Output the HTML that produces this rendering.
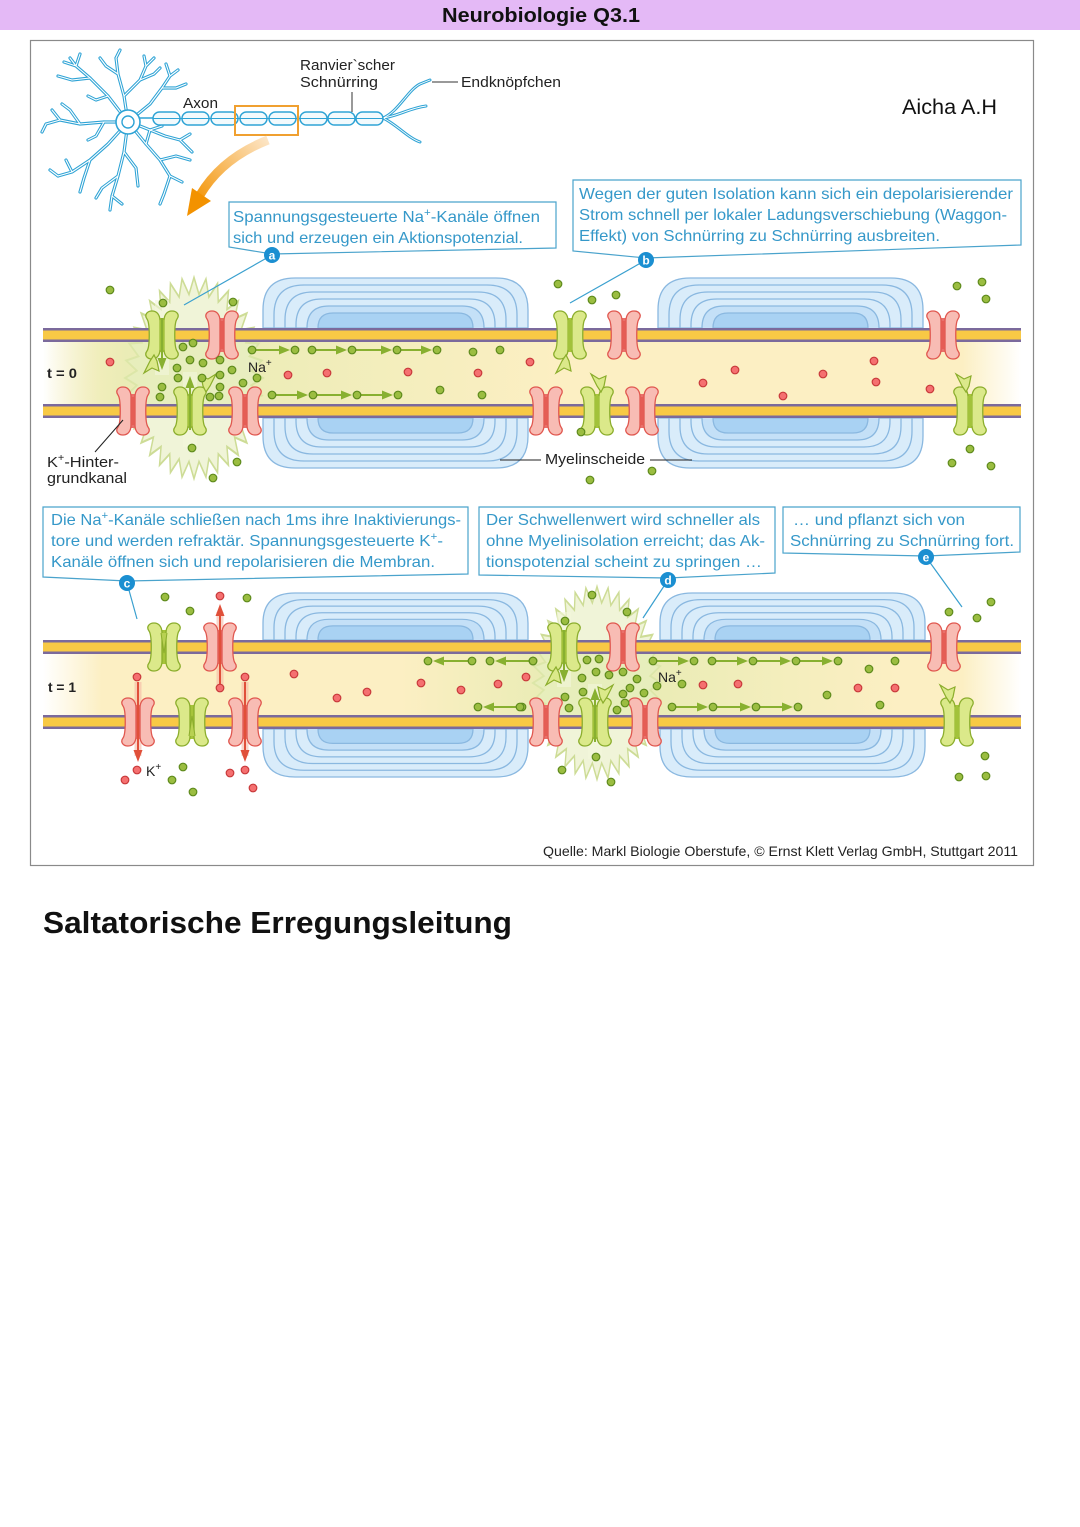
<!DOCTYPE html>
<html><head><meta charset="utf-8"><style>
html,body{margin:0;padding:0;background:#fff;}
svg{display:block;font-family:"Liberation Sans","DejaVu Sans",sans-serif;}
.g{fill:#9bbd41;stroke:#5e8a1c;stroke-width:1.2}
.r{fill:#f57070;stroke:#c8393a;stroke-width:1.2}
.bt{fill:#3598c9;font-size:16px}
.lb{fill:#222;font-size:15px}
.box{fill:#fff;stroke:#4aa3cc;stroke-width:1.2}
.pl{stroke:#3aa0cf;stroke-width:1.2;fill:none}
.ga{stroke:#88b030;stroke-width:2}
.gh{fill:#88b030}
.ml{fill:none;stroke:#8ab8e0;stroke-width:1.3}
</style></head><body>
<svg width="1080" height="1527" viewBox="0 0 1080 1527" xmlns="http://www.w3.org/2000/svg">
<defs>
<linearGradient id="intg" x1="0" x2="1" y1="0" y2="0">
<stop offset="0" stop-color="#ffffff"/><stop offset="0.06" stop-color="#fcefc3"/><stop offset="0.94" stop-color="#fcefc3"/><stop offset="1" stop-color="#ffffff"/>
</linearGradient>
<linearGradient id="tint0" gradientUnits="userSpaceOnUse" x1="43" x2="560" y1="0" y2="0">
<stop offset="0" stop-color="#e3ebb0" stop-opacity="0"/><stop offset="0.16" stop-color="#e3ebb0" stop-opacity="0.7"/><stop offset="0.42" stop-color="#e3ebb0" stop-opacity="0.6"/><stop offset="1" stop-color="#e3ebb0" stop-opacity="0"/>
</linearGradient>
<linearGradient id="tint1" gradientUnits="userSpaceOnUse" x1="400" x2="900" y1="0" y2="0">
<stop offset="0" stop-color="#e3ebb0" stop-opacity="0"/><stop offset="0.28" stop-color="#e3ebb0" stop-opacity="0.7"/><stop offset="0.52" stop-color="#e3ebb0" stop-opacity="0.7"/><stop offset="1" stop-color="#e3ebb0" stop-opacity="0"/>
</linearGradient>
<linearGradient id="org" gradientUnits="userSpaceOnUse" x1="270" y1="138" x2="195" y2="205">
<stop offset="0" stop-color="#fde8cc"/><stop offset="1" stop-color="#f39200"/>
</linearGradient>
<path id="hR" d="M-2,-14 C-2,-20 -5,-24 -10,-24 C-15,-24 -18,-20 -15,-16 C-12,-12 -12,12 -15,16 C-18,20 -15,24 -10,24 C-5,24 -2,20 -2,14 Z"/>
<g id="cR">
<rect x="-3" y="-17" width="6" height="34" fill="#e9706a"/>
<use href="#hR" fill="#f8bcb4" stroke="#e0574f" stroke-width="1.3"/>
<use href="#hR" transform="scale(-1,1)" fill="#f8bcb4" stroke="#e0574f" stroke-width="1.3"/>
<rect x="-1.8" y="-14" width="3.6" height="28" fill="#e55d55"/>
</g>
<g id="cG">
<rect x="-3.5" y="-17" width="7" height="34" fill="#a6c43a"/>
<use href="#hR" fill="#dbe98a" stroke="#8bad2c" stroke-width="1.3"/>
<use href="#hR" transform="scale(-1,1)" fill="#dbe98a" stroke="#8bad2c" stroke-width="1.3"/>
<rect x="-2.5" y="-15" width="5" height="30" fill="#a2c23a"/>
</g>
<g id="cGc">
<rect x="-3" y="-17" width="6" height="34" fill="#a6c43a"/>
<use href="#hR" fill="#dbe98a" stroke="#8bad2c" stroke-width="1.3"/>
<use href="#hR" transform="scale(-1,1)" fill="#dbe98a" stroke="#8bad2c" stroke-width="1.3"/>
<path d="M-3,-14 L0,6 L3,-14" fill="#b8d152" stroke="#8bad2c" stroke-width="1"/>
</g>
<path id="gate" d="M0,0 L-4,6 L-10,18 L-2,13 L5,16 L3,6 Z" fill="#dbe98a" stroke="#8bad2c" stroke-width="1.2"/>
<g id="my">
<path d="M0,0 L0,-18 Q0,-50 32,-50 L233,-50 Q265,-50 265,-18 L265,0 Z" fill="#d9ecfa" stroke="#8ab8e0" stroke-width="1.3"/>
<path class="ml" d="M11,0 L11,-13 Q11,-43 41,-43 L224,-43 Q254,-43 254,-13 L254,0"/>
<path class="ml" d="M22,0 L22,-8 Q22,-36 50,-36 L215,-36 Q243,-36 243,-8 L243,0"/>
<path class="ml" d="M33,0 L33,-3 Q33,-29 59,-29 L206,-29 Q232,-29 232,-3 L232,0"/>
<path d="M44,0 Q44,-22 66,-22 L199,-22 Q221,-22 221,0" fill="#c4e0f7" stroke="#8ab8e0" stroke-width="1.3"/>
<path d="M55,0 Q55,-15 70,-15 L195,-15 Q210,-15 210,0 Z" fill="#a9d2f3" stroke="#8ab8e0" stroke-width="1.3"/>
</g>
<g id="star">
<circle r="55"/>
<polygon id="sp" points="-6,-53 0,-67 6,-53"/>
<use href="#sp" transform="rotate(10)"/><use href="#sp" transform="rotate(20)"/><use href="#sp" transform="rotate(30)"/>
<use href="#sp" transform="rotate(40)"/><use href="#sp" transform="rotate(50)"/><use href="#sp" transform="rotate(60)"/>
<use href="#sp" transform="rotate(70)"/><use href="#sp" transform="rotate(80)"/><use href="#sp" transform="rotate(90)"/>
<use href="#sp" transform="rotate(100)"/><use href="#sp" transform="rotate(110)"/><use href="#sp" transform="rotate(120)"/>
<use href="#sp" transform="rotate(130)"/><use href="#sp" transform="rotate(140)"/><use href="#sp" transform="rotate(150)"/>
<use href="#sp" transform="rotate(160)"/><use href="#sp" transform="rotate(170)"/><use href="#sp" transform="rotate(180)"/>
<use href="#sp" transform="rotate(190)"/><use href="#sp" transform="rotate(200)"/><use href="#sp" transform="rotate(210)"/>
<use href="#sp" transform="rotate(220)"/><use href="#sp" transform="rotate(230)"/><use href="#sp" transform="rotate(240)"/>
<use href="#sp" transform="rotate(250)"/><use href="#sp" transform="rotate(260)"/><use href="#sp" transform="rotate(270)"/>
<use href="#sp" transform="rotate(280)"/><use href="#sp" transform="rotate(290)"/><use href="#sp" transform="rotate(300)"/>
<use href="#sp" transform="rotate(310)"/><use href="#sp" transform="rotate(320)"/><use href="#sp" transform="rotate(330)"/>
<use href="#sp" transform="rotate(340)"/><use href="#sp" transform="rotate(350)"/>
</g>
<path id="dend" d="M128,122 L108,96 L90,78 L76,66 L70,58 M90,78 L72,80 L58,76 M76,66 L80,54 M76,66 L64,62 M108,96 L96,100 L88,96 M128,122 L124,96 L118,74 L116,58 M116,58 L120,50 M118,74 L106,66 L100,58 M124,96 L140,80 L146,66 L144,56 M140,80 L154,74 L160,68 M146,66 L154,58 M128,122 L150,104 L162,88 L170,76 M162,88 L176,88 L186,84 M170,76 L166,64 M170,76 L178,70 M128,122 L104,122 L80,124 L60,120 L46,124 M80,124 L70,110 L62,104 M60,120 L52,110 M46,124 L42,132 M104,122 L96,136 L88,140 M128,122 L108,144 L90,160 L72,172 L58,176 M90,160 L84,178 L80,192 M72,172 L66,160 M58,176 L50,170 M128,122 L124,152 L118,176 L112,196 L110,210 M118,176 L102,188 L96,198 M124,152 L136,168 L138,186 M112,196 L122,204 M128,122 L146,144 L160,160 L170,176 L182,182 M160,160 L176,156 L190,160 M170,176 L164,194 L160,204 M146,144 L150,130 L162,126 M140,126 L165,136 L180,140 L192,152 M180,140 L190,134"/>
</defs>

<!-- header -->
<rect x="0" y="0" width="1080" height="30" fill="#e4b9f6"/>
<text x="442" y="22" font-size="20" font-weight="bold" fill="#111" textLength="198" lengthAdjust="spacingAndGlyphs">Neurobiologie Q3.1</text>

<!-- frame -->
<rect x="30.5" y="40.5" width="1003" height="825" fill="#fff" stroke="#8a8a8a" stroke-width="1.2"/>

<!-- neuron -->
<g fill="none" stroke-linecap="round" stroke-linejoin="round">
<use href="#dend" stroke="#2ea3d5" stroke-width="3.2"/>
<use href="#dend" stroke="#ffffff" stroke-width="1.1"/>
<path stroke="#2ea3d5" stroke-width="1.6" d="M135,118 L153,118"/>
<path stroke="#2ea3d5" stroke-width="3" d="M383,118 C398,112 408,90 420,84 L430,80 M383,118 C398,116 410,108 426,106 M383,118 C396,124 408,138 420,142"/>
<path stroke="#fff" stroke-width="0.9" d="M383,118 C398,112 408,90 420,84 L430,80 M383,118 C398,116 410,108 426,106 M383,118 C396,124 408,138 420,142"/>
</g>
<circle cx="128" cy="122" r="12" fill="#fff" stroke="#2ea3d5" stroke-width="1.6"/>
<circle cx="128" cy="122" r="6" fill="#fff" stroke="#2ea3d5" stroke-width="1.4"/>
<g fill="#f2fafd" stroke="#2ea3d5" stroke-width="1.5">
<rect x="153" y="112" width="27" height="13" rx="6.5"/><rect x="182" y="112" width="27" height="13" rx="6.5"/>
<rect x="211" y="112" width="27" height="13" rx="6.5"/><rect x="240" y="112" width="27" height="13" rx="6.5"/>
<rect x="269" y="112" width="27" height="13" rx="6.5"/><rect x="300" y="112" width="27" height="13" rx="6.5"/>
<rect x="328" y="112" width="27" height="13" rx="6.5"/><rect x="356" y="112" width="27" height="13" rx="6.5"/>
</g>
<path d="M153,118.5 L383,118.5" stroke="#2ea3d5" stroke-width="1"/>
<rect x="235" y="106" width="63" height="29" fill="none" stroke="#f0a030" stroke-width="2"/>
<path d="M352,92 L352,112" stroke="#333" stroke-width="1"/>
<path d="M432,82 L458,82" stroke="#333" stroke-width="1"/>
<!-- orange arrow -->
<path d="M268,140 Q222,158 200,195" fill="none" stroke="url(#org)" stroke-width="9"/>
<polygon points="187,216 192,188 211,201" fill="#f39200"/>

<text class="lb" x="300" y="70" textLength="95" lengthAdjust="spacingAndGlyphs">Ranvier`scher</text>
<text class="lb" x="300" y="87" textLength="78" lengthAdjust="spacingAndGlyphs">Schnürring</text>
<text class="lb" x="461" y="87" textLength="100" lengthAdjust="spacingAndGlyphs">Endknöpfchen</text>
<text class="lb" x="183" y="108" textLength="35" lengthAdjust="spacingAndGlyphs">Axon</text>
<text x="902" y="114" font-size="21" fill="#111" textLength="95" lengthAdjust="spacingAndGlyphs">Aicha A.H</text>

<!-- callout a -->
<path class="box" d="M229,202 H556 V248 L272,254 L229,247 Z"/>
<text class="bt" x="233" y="222" textLength="307" lengthAdjust="spacingAndGlyphs">Spannungsgesteuerte Na<tspan dy="-6" font-size="11">+</tspan><tspan dy="6">-Kanäle öffnen</tspan></text>
<text class="bt" x="233" y="243" textLength="290" lengthAdjust="spacingAndGlyphs">sich und erzeugen ein Aktionspotenzial.</text>
<!-- callout b -->
<path class="box" d="M573,180 H1021 V245 L646,258 L573,251 Z"/>
<text class="bt" x="579" y="199" textLength="434" lengthAdjust="spacingAndGlyphs">Wegen der guten Isolation kann sich ein depolarisierender</text>
<text class="bt" x="579" y="220" textLength="428" lengthAdjust="spacingAndGlyphs">Strom schnell per lokaler Ladungsverschiebung (Waggon-</text>
<text class="bt" x="579" y="241" textLength="361" lengthAdjust="spacingAndGlyphs">Effekt) von Schnürring zu Schnürring ausbreiten.</text>
<!-- callout c -->
<path class="box" d="M43,507 H468 V574 L127,581 L43,577 Z"/>
<text class="bt" x="51" y="525" textLength="410" lengthAdjust="spacingAndGlyphs">Die Na<tspan dy="-6" font-size="11">+</tspan><tspan dy="6">-Kanäle schließen nach 1ms ihre Inaktivierungs-</tspan></text>
<text class="bt" x="51" y="546" textLength="392" lengthAdjust="spacingAndGlyphs">tore und werden refraktär. Spannungsgesteuerte K<tspan dy="-6" font-size="11">+</tspan><tspan dy="6">-</tspan></text>
<text class="bt" x="51" y="567" textLength="384" lengthAdjust="spacingAndGlyphs">Kanäle öffnen sich und repolarisieren die Membran.</text>
<!-- callout d -->
<path class="box" d="M479,507 H775 V573 L668,578 L479,575 Z"/>
<text class="bt" x="486" y="525" textLength="274" lengthAdjust="spacingAndGlyphs">Der Schwellenwert wird schneller als</text>
<text class="bt" x="486" y="546" textLength="279" lengthAdjust="spacingAndGlyphs">ohne Myelinisolation erreicht; das Ak-</text>
<text class="bt" x="486" y="567" textLength="276" lengthAdjust="spacingAndGlyphs">tionspotenzial scheint zu springen …</text>
<!-- callout e -->
<path class="box" d="M783,507 H1020 V552 L926,556 L783,553 Z"/>
<text class="bt" x="793" y="525" textLength="172" lengthAdjust="spacingAndGlyphs">… und pflanzt sich von</text>
<text class="bt" x="790" y="546" textLength="224" lengthAdjust="spacingAndGlyphs">Schnürring zu Schnürring fort.</text>

<!-- ============ t = 0 ============ -->
<rect x="43" y="342" width="978" height="62" fill="url(#intg)"/>
<use href="#star" transform="translate(194,378) scale(1,1.46)" fill="#cddc96" stroke="#cddc96" stroke-width="3"/>
<use href="#star" transform="translate(194,378) scale(1,1.46)" fill="#f0f4d8"/>
<rect x="43" y="342" width="517" height="62" fill="url(#tint0)"/>
<use href="#my" transform="translate(263,328)"/>
<use href="#my" transform="translate(263,418) scale(1,-1)"/>
<use href="#my" transform="translate(658,328)"/>
<use href="#my" transform="translate(658,418) scale(1,-1)"/>
<rect x="43" y="328" width="978" height="14" fill="#7b6a9c"/>
<rect x="43" y="330.5" width="978" height="9" fill="#f8c945"/>
<rect x="43" y="404" width="978" height="14" fill="#7b6a9c"/>
<rect x="43" y="406.5" width="978" height="9" fill="#f8c945"/>
<!-- glow strips for open Na channels -->
<rect x="155" y="300" width="14" height="75" fill="#f4f7dc" opacity="0.6"/>
<rect x="183" y="372" width="14" height="75" fill="#f4f7dc" opacity="0.6"/>
<!-- channels t0 -->
<use href="#cG" transform="translate(162,335)"/>
<use href="#cR" transform="translate(222,335)"/>
<use href="#cG" transform="translate(570,335)"/>
<use href="#cR" transform="translate(624,335)"/>
<use href="#cR" transform="translate(943,335)"/>
<use href="#cR" transform="translate(133,411)"/>
<use href="#cG" transform="translate(190,411)"/>
<use href="#cR" transform="translate(245,411)"/>
<use href="#cR" transform="translate(546,411)"/>
<use href="#cG" transform="translate(597,411)"/>
<use href="#cR" transform="translate(642,411)"/>
<use href="#cG" transform="translate(970,411)"/>
<use href="#gate" transform="translate(154,355)"/>
<use href="#gate" transform="translate(566,355)"/>
<use href="#gate" transform="translate(206,392) scale(-1,-1)"/>
<use href="#gate" transform="translate(601,392) scale(1,-1)"/>
<use href="#gate" transform="translate(966,392) scale(1,-1)"/>
<!-- Na arrows through channels -->
<line x1="162" y1="318" x2="162" y2="362" class="ga"/><polygon class="gh" points="157.5,358 162,370 166.5,358"/>
<line x1="190" y1="430" x2="190" y2="384" class="ga"/><polygon class="gh" points="185.5,388 190,376 194.5,388"/>
<!-- horizontal arrows t0 -->
<g>
<line class="ga" x1="256" y1="350" x2="285" y2="350"/><polygon class="gh" points="279,345.5 290,350 279,354.5"/>
<line class="ga" x1="316" y1="350" x2="342" y2="350"/><polygon class="gh" points="336,345.5 347,350 336,354.5"/>
<line class="ga" x1="356" y1="350" x2="387" y2="350"/><polygon class="gh" points="381,345.5 392,350 381,354.5"/>
<line class="ga" x1="401" y1="350" x2="427" y2="350"/><polygon class="gh" points="421,345.5 432,350 421,354.5"/>
<line class="ga" x1="276" y1="395" x2="303" y2="395"/><polygon class="gh" points="297,390.5 308,395 297,399.5"/>
<line class="ga" x1="317" y1="395" x2="347" y2="395"/><polygon class="gh" points="341,390.5 352,395 341,399.5"/>
<line class="ga" x1="361" y1="395" x2="388" y2="395"/><polygon class="gh" points="382,390.5 393,395 382,399.5"/>
</g>
<!-- dots t0 -->
<g class="g">
<circle cx="110" cy="290" r="3.8"/><circle cx="163" cy="303" r="3.8"/><circle cx="233" cy="302" r="3.8"/>
<circle cx="183" cy="347" r="3.8"/><circle cx="193" cy="343" r="3.8"/><circle cx="190" cy="360" r="3.8"/><circle cx="203" cy="363" r="3.8"/>
<circle cx="220" cy="360" r="3.8"/><circle cx="177" cy="368" r="3.8"/><circle cx="178" cy="378" r="3.8"/><circle cx="202" cy="378" r="3.8"/>
<circle cx="220" cy="375" r="3.8"/><circle cx="232" cy="370" r="3.8"/><circle cx="220" cy="387" r="3.8"/><circle cx="243" cy="383" r="3.8"/>
<circle cx="257" cy="378" r="3.8"/><circle cx="162" cy="387" r="3.8"/><circle cx="160" cy="397" r="3.8"/><circle cx="210" cy="397" r="3.8"/>
<circle cx="219" cy="396" r="3.8"/><circle cx="192" cy="448" r="3.8"/><circle cx="237" cy="462" r="3.8"/><circle cx="213" cy="478" r="3.8"/>
<circle cx="252" cy="350" r="3.8"/><circle cx="295" cy="350" r="3.8"/><circle cx="312" cy="350" r="3.8"/><circle cx="352" cy="350" r="3.8"/>
<circle cx="397" cy="350" r="3.8"/><circle cx="437" cy="350" r="3.8"/>
<circle cx="272" cy="395" r="3.8"/><circle cx="313" cy="395" r="3.8"/><circle cx="357" cy="395" r="3.8"/><circle cx="398" cy="395" r="3.8"/>
<circle cx="473" cy="352" r="3.8"/><circle cx="500" cy="350" r="3.8"/><circle cx="440" cy="390" r="3.8"/><circle cx="482" cy="395" r="3.8"/>
<circle cx="558" cy="284" r="3.8"/><circle cx="592" cy="300" r="3.8"/><circle cx="616" cy="295" r="3.8"/><circle cx="581" cy="432" r="3.8"/>
<circle cx="590" cy="480" r="3.8"/><circle cx="652" cy="471" r="3.8"/><circle cx="957" cy="286" r="3.8"/><circle cx="982" cy="282" r="3.8"/>
<circle cx="986" cy="299" r="3.8"/><circle cx="970" cy="449" r="3.8"/><circle cx="952" cy="463" r="3.8"/><circle cx="991" cy="466" r="3.8"/>
</g>
<g class="r">
<circle cx="110" cy="362" r="3.8"/><circle cx="288" cy="375" r="3.8"/><circle cx="327" cy="373" r="3.8"/><circle cx="408" cy="372" r="3.8"/>
<circle cx="478" cy="373" r="3.8"/><circle cx="530" cy="362" r="3.8"/><circle cx="735" cy="370" r="3.8"/><circle cx="703" cy="383" r="3.8"/>
<circle cx="783" cy="396" r="3.8"/><circle cx="823" cy="374" r="3.8"/><circle cx="874" cy="361" r="3.8"/><circle cx="876" cy="382" r="3.8"/>
<circle cx="930" cy="389" r="3.8"/>
</g>
<text x="47" y="378" font-size="14" font-weight="bold" fill="#222" textLength="30" lengthAdjust="spacingAndGlyphs">t = 0</text>
<text x="248" y="372" font-size="14" fill="#222">Na<tspan dy="-6" font-size="10">+</tspan></text>
<text class="lb" x="47" y="467" textLength="72" lengthAdjust="spacingAndGlyphs">K<tspan dy="-6" font-size="10">+</tspan><tspan dy="6">-Hinter-</tspan></text>
<text class="lb" x="47" y="483" textLength="80" lengthAdjust="spacingAndGlyphs">grundkanal</text>
<path d="M95,452 L123,420" stroke="#222" stroke-width="1"/>
<text class="lb" x="545" y="464" textLength="100" lengthAdjust="spacingAndGlyphs">Myelinscheide</text>
<path d="M500,460 L541,460 M650,460 L692,460" stroke="#222" stroke-width="1"/>

<!-- ============ t = 1 ============ -->
<rect x="43" y="654" width="978" height="61" fill="url(#intg)"/>
<use href="#star" transform="translate(597,683) scale(0.93,1.4)" fill="#cddc96" stroke="#cddc96" stroke-width="3"/>
<use href="#star" transform="translate(597,683) scale(0.93,1.4)" fill="#f0f4d8"/>
<rect x="400" y="654" width="500" height="61" fill="url(#tint1)"/>
<use href="#my" transform="translate(263,640) scale(1,0.94)"/>
<use href="#my" transform="translate(263,729) scale(1,-0.96)"/>
<use href="#my" transform="translate(660,640) scale(1,0.94)"/>
<use href="#my" transform="translate(660,729) scale(1,-0.96)"/>
<rect x="43" y="640" width="978" height="14" fill="#7b6a9c"/>
<rect x="43" y="642.5" width="978" height="9" fill="#f8c945"/>
<rect x="43" y="715" width="978" height="14" fill="#7b6a9c"/>
<rect x="43" y="717.5" width="978" height="9" fill="#f8c945"/>
<rect x="557" y="612" width="14" height="75" fill="#f4f7dc" opacity="0.6"/>
<rect x="588" y="684" width="14" height="75" fill="#f4f7dc" opacity="0.6"/>
<!-- red glow arrows -->
<g stroke="#f6b9a6" stroke-width="7" opacity="0.6">
<line x1="220" y1="688" x2="220" y2="612"/><line x1="138" y1="682" x2="138" y2="756"/><line x1="245" y1="682" x2="245" y2="756"/>
</g>
<use href="#cGc" transform="translate(164,647)"/>
<use href="#cR" transform="translate(220,647)"/>
<use href="#cG" transform="translate(564,647)"/>
<use href="#cR" transform="translate(623,647)"/>
<use href="#cR" transform="translate(944,647)"/>
<use href="#cR" transform="translate(138,722)"/>
<use href="#cGc" transform="translate(192,722) scale(1,-1)"/>
<use href="#cR" transform="translate(245,722)"/>
<use href="#cR" transform="translate(546,722)"/>
<use href="#cG" transform="translate(595,722)"/>
<use href="#cR" transform="translate(645,722)"/>
<use href="#cG" transform="translate(957,722)"/>
<use href="#gate" transform="translate(556,667)"/>
<use href="#gate" transform="translate(603,703) scale(-1,-1)"/>
<use href="#gate" transform="translate(950,703) scale(1,-1)"/>
<!-- red arrows -->
<g stroke="#e0503a" stroke-width="2">
<line x1="220" y1="684" x2="220" y2="614"/><line x1="138" y1="682" x2="138" y2="752"/><line x1="245" y1="682" x2="245" y2="752"/>
</g>
<g fill="#e0503a">
<polygon points="215.5,616 220,604 224.5,616"/><polygon points="133.5,750 138,762 142.5,750"/><polygon points="240.5,750 245,762 249.5,750"/>
</g>
<line x1="564" y1="630" x2="564" y2="674" class="ga"/><polygon class="gh" points="559.5,670 564,682 568.5,670"/>
<line x1="595" y1="742" x2="595" y2="696" class="ga"/><polygon class="gh" points="590.5,700 595,688 599.5,700"/>
<!-- horizontal arrows t1 -->
<g>
<line class="ga" x1="657" y1="661" x2="684" y2="661"/><polygon class="gh" points="678,656.5 689,661 678,665.5"/>
<line class="ga" x1="716" y1="661" x2="743" y2="661"/><polygon class="gh" points="737,656.5 748,661 737,665.5"/>
<line class="ga" x1="757" y1="661" x2="786" y2="661"/><polygon class="gh" points="780,656.5 791,661 780,665.5"/>
<line class="ga" x1="800" y1="661" x2="828" y2="661"/><polygon class="gh" points="822,656.5 833,661 822,665.5"/>
<line class="ga" x1="676" y1="707" x2="703" y2="707"/><polygon class="gh" points="697,702.5 708,707 697,711.5"/>
<line class="ga" x1="717" y1="707" x2="746" y2="707"/><polygon class="gh" points="740,702.5 751,707 740,711.5"/>
<line class="ga" x1="760" y1="707" x2="788" y2="707"/><polygon class="gh" points="782,702.5 793,707 782,711.5"/>
<line class="ga" x1="468" y1="661" x2="438" y2="661"/><polygon class="gh" points="444,656.5 433,661 444,665.5"/>
<line class="ga" x1="529" y1="661" x2="500" y2="661"/><polygon class="gh" points="506,656.5 495,661 506,665.5"/>
<line class="ga" x1="516" y1="707" x2="488" y2="707"/><polygon class="gh" points="494,702.5 483,707 494,711.5"/>
</g>
<g class="g">
<circle cx="165" cy="597" r="3.8"/><circle cx="190" cy="611" r="3.8"/><circle cx="247" cy="598" r="3.8"/><circle cx="183" cy="767" r="3.8"/>
<circle cx="172" cy="780" r="3.8"/><circle cx="193" cy="792" r="3.8"/>
<circle cx="533" cy="661" r="3.8"/><circle cx="587" cy="660" r="3.8"/><circle cx="599" cy="659" r="3.8"/><circle cx="596" cy="672" r="3.8"/>
<circle cx="582" cy="678" r="3.8"/><circle cx="609" cy="675" r="3.8"/><circle cx="623" cy="672" r="3.8"/><circle cx="637" cy="679" r="3.8"/>
<circle cx="583" cy="692" r="3.8"/><circle cx="630" cy="688" r="3.8"/><circle cx="644" cy="693" r="3.8"/><circle cx="623" cy="694" r="3.8"/>
<circle cx="657" cy="686" r="3.8"/><circle cx="682" cy="684" r="3.8"/><circle cx="565" cy="697" r="3.8"/><circle cx="569" cy="708" r="3.8"/>
<circle cx="617" cy="710" r="3.8"/><circle cx="625" cy="703" r="3.8"/><circle cx="522" cy="707" r="3.8"/><circle cx="592" cy="595" r="3.8"/>
<circle cx="627" cy="612" r="3.8"/><circle cx="565" cy="621" r="3.8"/><circle cx="596" cy="757" r="3.8"/><circle cx="562" cy="770" r="3.8"/>
<circle cx="611" cy="782" r="3.8"/>
<circle cx="869" cy="669" r="3.8"/><circle cx="895" cy="661" r="3.8"/><circle cx="827" cy="695" r="3.8"/><circle cx="880" cy="705" r="3.8"/>
<circle cx="949" cy="612" r="3.8"/><circle cx="977" cy="618" r="3.8"/><circle cx="991" cy="602" r="3.8"/><circle cx="985" cy="756" r="3.8"/>
<circle cx="959" cy="777" r="3.8"/><circle cx="986" cy="776" r="3.8"/>
<circle cx="653" cy="661" r="3.8"/><circle cx="694" cy="661" r="3.8"/><circle cx="712" cy="661" r="3.8"/><circle cx="753" cy="661" r="3.8"/>
<circle cx="796" cy="661" r="3.8"/><circle cx="838" cy="661" r="3.8"/>
<circle cx="672" cy="707" r="3.8"/><circle cx="713" cy="707" r="3.8"/><circle cx="756" cy="707" r="3.8"/><circle cx="798" cy="707" r="3.8"/>
<circle cx="428" cy="661" r="3.8"/><circle cx="472" cy="661" r="3.8"/><circle cx="490" cy="661" r="3.8"/><circle cx="533" cy="661" r="3.8"/>
<circle cx="478" cy="707" r="3.8"/><circle cx="520" cy="707" r="3.8"/>
</g>
<g class="r">
<circle cx="220" cy="596" r="3.8"/><circle cx="137" cy="677" r="3.8"/><circle cx="220" cy="688" r="3.8"/><circle cx="245" cy="677" r="3.8"/>
<circle cx="294" cy="674" r="3.8"/><circle cx="337" cy="698" r="3.8"/><circle cx="367" cy="692" r="3.8"/><circle cx="421" cy="683" r="3.8"/>
<circle cx="461" cy="690" r="3.8"/><circle cx="498" cy="684" r="3.8"/><circle cx="526" cy="677" r="3.8"/><circle cx="137" cy="770" r="3.8"/>
<circle cx="125" cy="780" r="3.8"/><circle cx="230" cy="773" r="3.8"/><circle cx="245" cy="770" r="3.8"/><circle cx="253" cy="788" r="3.8"/>
<circle cx="703" cy="685" r="3.8"/><circle cx="738" cy="684" r="3.8"/><circle cx="858" cy="688" r="3.8"/><circle cx="895" cy="688" r="3.8"/>
</g>
<text x="48" y="692" font-size="14" font-weight="bold" fill="#222" textLength="28" lengthAdjust="spacingAndGlyphs">t = 1</text>
<text x="658" y="682" font-size="14" fill="#222">Na<tspan dy="-6" font-size="10">+</tspan></text>
<text x="146" y="776" font-size="14" fill="#222">K<tspan dy="-6" font-size="10">+</tspan></text>

<!-- pointer lines & letter circles -->
<path class="pl" d="M272,255 L184,305 M646,260 L570,303 M127,583 L137,619 M668,580 L643,618 M926,557 L962,607"/>
<g fill="#1b8fd1">
<circle cx="272" cy="255" r="8"/><circle cx="646" cy="260" r="8"/><circle cx="127" cy="583" r="8"/><circle cx="668" cy="580" r="8"/><circle cx="926" cy="557" r="8"/>
</g>
<g fill="#fff" font-size="12" font-weight="bold" text-anchor="middle">
<text x="272" y="259.5">a</text><text x="646" y="264.5">b</text><text x="127" y="587.5">c</text><text x="668" y="584.5">d</text><text x="926" y="561.5">e</text>
</g>

<text x="543" y="856" font-size="14" fill="#222" textLength="475" lengthAdjust="spacingAndGlyphs">Quelle: Markl Biologie Oberstufe, © Ernst Klett Verlag GmbH, Stuttgart 2011</text>

<text x="43" y="933" font-size="31" font-weight="bold" fill="#111" textLength="469" lengthAdjust="spacingAndGlyphs">Saltatorische Erregungsleitung</text>
</svg>
</body></html>
